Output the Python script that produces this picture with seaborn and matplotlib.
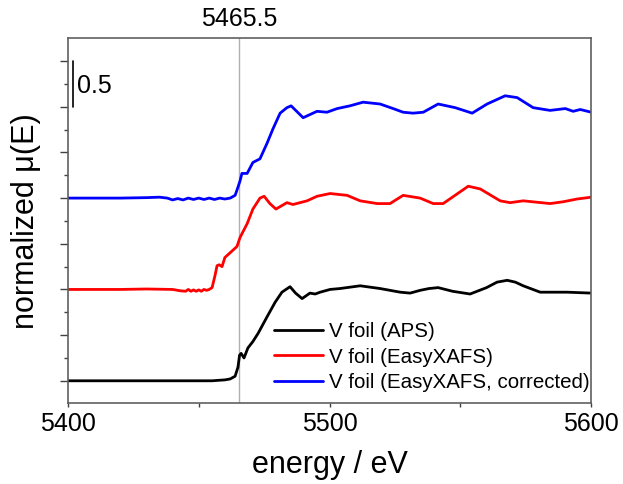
import matplotlib
matplotlib.use("Agg")
import matplotlib.pyplot as plt
import matplotlib.transforms as mtransforms
import numpy as np
import pandas as pd
import seaborn as sns

# V foil (APS) - normalized mu(E)
aps_e = [5400, 5420, 5440, 5455, 5460, 5462, 5463.9, 5465.0, 5465.6, 5466.2, 5467.3,
         5468.8, 5470.7, 5472.7, 5476.1, 5479.2, 5481.8, 5484.9, 5487.0, 5489.5,
         5492.5, 5494.5, 5496.4, 5500.2, 5504.0, 5511.7, 5519.3, 5527.0, 5530.8,
         5534.6, 5538.0, 5541.5, 5547.0, 5553.7, 5560.0, 5564.0, 5567.9, 5571.0,
         5574.0, 5580.5, 5590.8, 5600]
aps_mu = [0.0, 0.0, 0.0, 0.0, 0.01, 0.02, 0.05, 0.15, 0.28, 0.30, 0.25,
          0.36, 0.43, 0.52, 0.70, 0.86, 0.97, 1.03, 0.96, 0.90,
          0.96, 0.95, 0.97, 1.00, 1.01, 1.04, 1.01, 0.97, 0.96,
          0.99, 1.01, 1.02, 0.98, 0.95, 1.02, 1.08, 1.10, 1.08,
          1.04, 0.97, 0.97, 0.96]

# V foil (EasyXAFS)
easy_e = [5400, 5420, 5430, 5440, 5443, 5445, 5446, 5447, 5448, 5449, 5450, 5451,
          5452, 5453, 5454, 5455.1, 5456.2, 5457.0, 5457.8, 5458.9, 5460.0, 5462.7,
          5464.6, 5465.8, 5468.5, 5470.7, 5473.4, 5475.0, 5477.2, 5479.5, 5483.7,
          5486.0, 5491.4, 5495.2, 5500.2, 5506.7, 5511.7, 5518.2, 5523.1, 5528.1,
          5534.6, 5539.6, 5543.4, 5553.0, 5557.6, 5565.2, 5569.0, 5574.0, 5584.3,
          5589.3, 5594.6, 5600]
easy_mu = [0.0, 0.0, 0.005, 0.0, -0.015, -0.02, 0.0, -0.02, -0.005, -0.02, -0.005, -0.02,
           0.0, -0.01, 0.0, 0.02, 0.15, 0.26, 0.27, 0.25, 0.35, 0.42,
           0.47, 0.57, 0.72, 0.88, 1.00, 1.02, 0.94, 0.88, 0.95,
           0.93, 0.97, 1.02, 1.05, 1.03, 0.97, 0.94, 0.94, 1.03,
           1.00, 0.94, 0.94, 1.13, 1.10, 0.97, 0.95, 0.97, 0.94,
           0.96, 0.99, 1.01]

# V foil (EasyXAFS, corrected)
corr_e = [5400, 5420, 5430, 5435, 5438, 5440, 5442, 5444, 5446, 5448, 5450, 5452,
          5454, 5456, 5458, 5460, 5462, 5463.9, 5465.0, 5465.8, 5466.5, 5468.5,
          5470.7, 5473.4, 5476.1, 5478.4, 5481.1, 5483.7, 5485.3, 5489.9, 5495.2,
          5499.0, 5502.9, 5507.8, 5512.8, 5519.3, 5524.3, 5528.1, 5531.9, 5535.8,
          5541.5, 5548.0, 5554.5, 5560.2, 5567.1, 5571.7, 5577.8, 5584.3, 5590.1,
          5593.1, 5595.8, 5600]
corr_mu = [0.0, 0.0, 0.005, 0.01, 0.0, -0.02, -0.005, -0.02, 0.0, -0.015, 0.0, -0.015,
           0.0, -0.015, 0.0, -0.01, 0.0, 0.03, 0.12, 0.19, 0.27, 0.27,
           0.39, 0.43, 0.60, 0.76, 0.93, 0.99, 1.01, 0.88, 0.95,
           0.94, 0.98, 1.01, 1.05, 1.03, 0.98, 0.94, 0.93, 0.94,
           1.03, 0.99, 0.93, 1.03, 1.12, 1.10, 0.99, 0.96, 0.98,
           0.95, 0.97, 0.94]

labels = ["V foil (APS)", "V foil (EasyXAFS)", "V foil (EasyXAFS, corrected)"]
offsets = [0, 1, 2]
colors = ["black", "#ff0000", "#0000ff"]

frames = []
for lab, e, mu, off in zip(labels, [aps_e, easy_e, corr_e], [aps_mu, easy_mu, corr_mu], offsets):
    frames.append(pd.DataFrame({"energy": e, "mu": np.array(mu) + off, "sample": lab}))
df = pd.concat(frames, ignore_index=True)

sns.set_style("ticks")
plt.rcParams["font.family"] = ["Liberation Sans", "DejaVu Sans"]
plt.rcParams["text.color"] = "black"
plt.rcParams["axes.labelcolor"] = "black"
plt.rcParams["xtick.color"] = "black"
plt.rcParams["ytick.color"] = "black"

fig = plt.figure(figsize=(6.23, 4.84), dpi=100)
ax = fig.add_axes([0.109, 0.167, 0.840, 0.754])

ax.axvline(5465.5, color="#b0b0b0", lw=1.0, zorder=0)
sns.lineplot(data=df, x="energy", y="mu", hue="sample", palette=colors,
             hue_order=labels, lw=2.0, sort=False, estimator=None, ax=ax)

ax.set_xlim(5400, 5600)
ax.set_ylim(-0.245, 3.75)
ax.set_xticks([5400, 5500, 5600])
ax.set_xticks([5450, 5550], minor=True)
ax.set_yticks(np.arange(0, 3.6, 0.5))
ax.set_yticks(np.arange(0.25, 3.6, 0.5), minor=True)
ax.set_yticklabels([])
ax.tick_params(axis="x", which="both", labelsize=18, length=3, width=1, color="#404040")
ax.tick_params(axis="y", which="major", length=6, width=1, color="#404040")
ax.tick_params(axis="y", which="minor", length=3, width=1, color="#404040")
for s in ax.spines.values():
    s.set_visible(True)
    s.set_color("#606060")
    s.set_linewidth(1.2)

ax.set_xlabel("energy / eV", fontsize=22, labelpad=10)
ax.set_ylabel("normalized μ(E)", fontsize=22, labelpad=10)

# scale bar
ax.plot([5402, 5402], [3.0, 3.5], color="black", lw=1.2)
ax.text(5403.5, 3.23, "0.5", fontsize=18, va="center", ha="left")

trans = mtransforms.blended_transform_factory(ax.transData, ax.transAxes)
ax.text(5465.5, 1.02, "5465.5", transform=trans, fontsize=18, ha="center", va="bottom")

leg = ax.legend(loc="lower right", bbox_to_anchor=(0.997, 0.03), frameon=False,
                fontsize=14.8, handlelength=2.4, handletextpad=0.3, labelspacing=0.32,
                borderpad=0, borderaxespad=0)
for line in leg.get_lines():
    line.set_linewidth(2.0)

fig.savefig("out.png", dpi=100)
